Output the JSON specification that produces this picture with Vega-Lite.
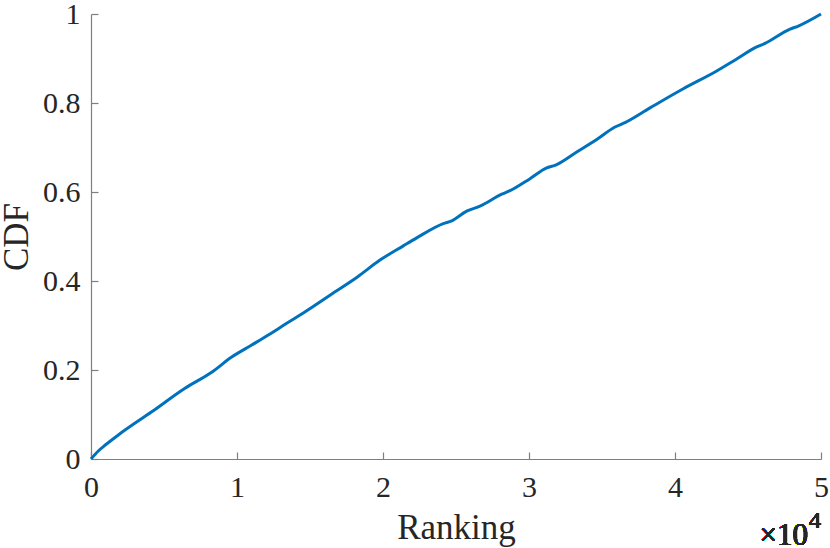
{
  "$schema": "https://vega.github.io/schema/vega-lite/v6.json",
  "width": 730,
  "height": 445,
  "autosize": "none",
  "padding": {"left": 91, "top": 14, "right": 9, "bottom": 89},
  "background": "white",
  "config": {
    "view": {"stroke": null},
    "font": "Liberation Serif",
    "axis": {
      "grid": false,
      "domainColor": "#7f7f7f",
      "domainWidth": 1.2,
      "tickColor": "#7f7f7f",
      "tickWidth": 1.2,
      "tickSize": -7,
      "labelColor": "#262626",
      "labelFont": "Liberation Serif",
      "labelFontSize": 30,
      "titleColor": "#262626",
      "titleFont": "Liberation Serif",
      "titleFontSize": 35,
      "titleFontWeight": "normal"
    }
  },
  "data": {
    "values": [
      {"rank": 0, "cdf": 0},
      {"rank": 500, "cdf": 0.018},
      {"rank": 1000, "cdf": 0.032},
      {"rank": 1870, "cdf": 0.054},
      {"rank": 4158, "cdf": 0.106},
      {"rank": 6438, "cdf": 0.159},
      {"rank": 8267, "cdf": 0.195},
      {"rank": 9637, "cdf": 0.229},
      {"rank": 11007, "cdf": 0.256},
      {"rank": 12260, "cdf": 0.281},
      {"rank": 13404, "cdf": 0.305},
      {"rank": 14541, "cdf": 0.328},
      {"rank": 16829, "cdf": 0.378},
      {"rank": 18199, "cdf": 0.408},
      {"rank": 19795, "cdf": 0.447},
      {"rank": 21390, "cdf": 0.479},
      {"rank": 22308, "cdf": 0.497},
      {"rank": 24130, "cdf": 0.529},
      {"rank": 24705, "cdf": 0.535},
      {"rank": 25733, "cdf": 0.557},
      {"rank": 26644, "cdf": 0.568},
      {"rank": 28130, "cdf": 0.595},
      {"rank": 28699, "cdf": 0.603},
      {"rank": 30068, "cdf": 0.630},
      {"rank": 31212, "cdf": 0.654},
      {"rank": 31781, "cdf": 0.660},
      {"rank": 33267, "cdf": 0.690},
      {"rank": 34637, "cdf": 0.718},
      {"rank": 35890, "cdf": 0.746},
      {"rank": 36575, "cdf": 0.756},
      {"rank": 38288, "cdf": 0.789},
      {"rank": 40568, "cdf": 0.832},
      {"rank": 42856, "cdf": 0.872},
      {"rank": 44226, "cdf": 0.899},
      {"rank": 45596, "cdf": 0.926},
      {"rank": 46164, "cdf": 0.934},
      {"rank": 47877, "cdf": 0.966},
      {"rank": 48445, "cdf": 0.973},
      {"rank": 50000, "cdf": 1.0}
    ]
  },
  "layer": [
    {
      "mark": {"type": "line", "color": "#0072BD", "strokeWidth": 3, "strokeJoin": "round", "interpolate": "monotone"},
      "encoding": {
        "x": {
          "field": "rank",
          "type": "quantitative",
          "scale": {"domain": [0, 50000], "nice": false},
          "axis": {
            "title": "Ranking",
            "values": [0, 10000, 20000, 30000, 40000, 50000],
            "labelExpr": "format(datum.value / 10000, '~g')",
            "labelPadding": 20,
            "labelFlush": false,
            "titlePadding": 8
          }
        },
        "y": {
          "field": "cdf",
          "type": "quantitative",
          "scale": {"domain": [0, 1], "nice": false},
          "axis": {
            "title": "CDF",
            "values": [0, 0.2, 0.4, 0.6, 0.8, 1],
            "format": "~g",
            "labelPadding": 18,
            "labelFlush": false,
            "titlePadding": 8
          }
        }
      }
    },
    {
      "mark": {"type": "text", "text": "×10", "font": "Liberation Serif", "fontSize": 31, "color": "#262626", "align": "right", "baseline": "alphabetic", "dx": -13, "dy": 86},
      "encoding": {"x": {"datum": 50000}, "y": {"datum": 0}}
    },
    {
      "mark": {"type": "text", "text": "4", "font": "Liberation Serif", "fontSize": 24, "color": "#262626", "align": "right", "baseline": "alphabetic", "dx": 0, "dy": 69},
      "encoding": {"x": {"datum": 50000}, "y": {"datum": 0}}
    }
  ]
}
